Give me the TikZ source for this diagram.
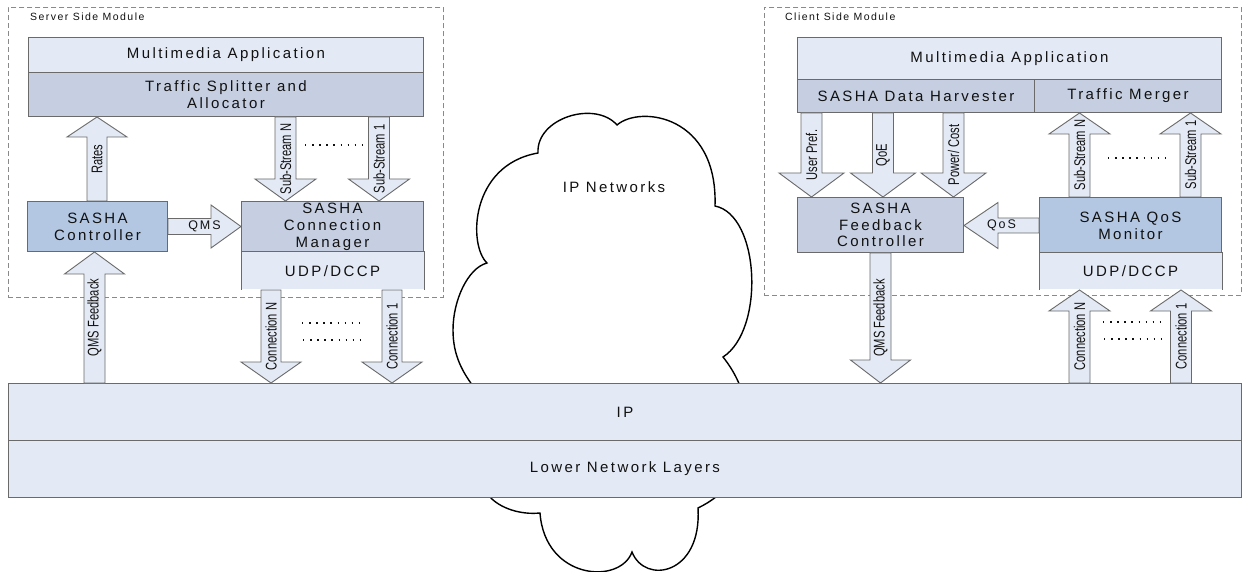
\documentclass[tikz,border=0pt]{standalone}
\usepackage{graphicx}
\usepackage{fontspec}
\setmainfont{Liberation Sans}
\newfontfamily\wf[LetterSpace=16]{Liberation Sans}
\newfontfamily\tf[LetterSpace=14]{Liberation Sans}
\usetikzlibrary{calc}
\definecolor{cLight}{HTML}{E4EAF5}
\definecolor{cMid}{HTML}{C5CFE1}
\definecolor{cDark}{HTML}{B3C7E2}
\definecolor{cLine}{HTML}{6A6A6A}
\definecolor{cText}{HTML}{111111}
\definecolor{cDash}{HTML}{8A8A8A}
\newcommand\nar[1]{\scalebox{0.72}[1]{#1}}
\tikzset{
 layerbox/.style={draw=cLine, line width=1pt, inner sep=0pt, anchor=north west, align=center, text=cText, font=\wf\fontsize{15}{17}\selectfont},
 barrow/.style={draw=cLine, fill=cLight, line width=0.9pt, line join=miter},
 vlab/.style={rotate=90, inner sep=0pt, text=cText, font=\fontsize{15.5}{15.5}\selectfont},
 hlab/.style={inner sep=0pt, text=cText, font=\wf\fontsize{12.5}{14}\selectfont},
 modframe/.style={draw=cDash, line width=0.9pt, dash pattern=on 5pt off 3pt, inner sep=0pt, anchor=north west},
 modtitle/.style={anchor=west, inner sep=0pt, text=cText, font=\tf\fontsize{10.5}{12}\selectfont},
 cloudline/.style={draw=black, line width=1.4pt},
 dotrow/.style={draw=cText, line width=1.4pt, dash pattern=on 1.4pt off 5.7pt},
}
% block arrow: [label style]{tail}{tip}{shaft half}{head half}{head length}{label}{name}
\newcommand\blkarrow[8][vlab]{%
  \coordinate (bT) at (#2); \coordinate (bH) at (#3);
  \coordinate (bB) at ($(bH)!#6!(bT)$);
  \draw[barrow] ($(bT)!#4!90:(bH)$) -- ($(bB)!#4!90:(bH)$) -- ($(bB)!#5!90:(bH)$) -- (bH)
     -- ($(bB)!#5!-90:(bH)$) -- ($(bB)!#4!-90:(bH)$) -- ($(bT)!#4!-90:(bH)$) -- cycle;
  \node[#1] (#8) at ($(bT)!0.5!(bH)$) {#7};
}
\begin{document}
\begin{tikzpicture}[x=1pt,y=-1pt]
\useasboundingbox (0,0) rectangle (1243,572);
\fill[white] (0,0) rectangle (1243,572);

% module frames
\node[modframe, minimum width=435pt, minimum height=290pt] (srvmod) at (8,7) {};
\node[modframe, minimum width=477pt, minimum height=288pt] (climod) at (764,7) {};
\node[modtitle] (srvtitle) at (30,17) {Server Side Module};
\node[modtitle] (clititle) at (785,17) {Client Side Module};

% cloud
\draw[cloudline] (538,153) .. controls (536,118) and (595,100) .. (617,125)
  .. controls (640,105) and (718,115) .. (715,206)
  .. controls (760,215) and (765,330) .. (723,357)
  .. controls (735,372) and (748,395) .. (748,430)
  .. controls (748,470) and (725,495) .. (698,508)
  .. controls (702,575) and (645,585) .. (632,552)
  .. controls (620,585) and (545,580) .. (540,513)
  .. controls (520,515) and (500,508) .. (490,497)
  -- (476,390)
  .. controls (462,372) and (453,355) .. (453,330)
  .. controls (453,300) and (468,268) .. (487,263)
  .. controls (468,245) and (470,165) .. (538,153) -- cycle;
\node[hlab, font=\wf\fontsize{15}{17}\selectfont] (ipn) at (614,187) {IP Networks};

% bottom layers
\node[layerbox, fill=cLight, minimum width=1233pt, minimum height=57pt] (ip) at (8,383) {IP};
\node[layerbox, fill=cLight, minimum width=1233pt, minimum height=57pt] (lnl) at (8,440) {Lower Network Layers};

% server side boxes
\node[layerbox, fill=cLight, minimum width=395pt, minimum height=35pt] (smm) at (28,37) {Multimedia Application};
\node[layerbox, fill=cMid, minimum width=395pt, minimum height=44pt] (sts) at (28,72) {Traffic Splitter and\\Allocator};
\node[layerbox, fill=cDark, minimum width=140pt, minimum height=50pt] (sctl) at (27,201) {SASHA\\Controller};
\node[layerbox, fill=cMid, minimum width=182pt, minimum height=51pt] (scm) at (241,201) {SASHA\\Connection\\Manager};
\node[layerbox, draw=none, fill=cLight, minimum width=182pt, minimum height=37pt] (sudp) at (241,252) {UDP/DCCP};
\draw[cLine, line width=1pt] (sudp.south west) -- (sudp.north west) -- (sudp.north east) -- (sudp.south east);

% client side boxes
\node[layerbox, fill=cLight, minimum width=424pt, minimum height=42pt] (cmm) at (797,37) {Multimedia Application};
\node[layerbox, fill=cMid, minimum width=237pt, minimum height=33pt] (cdh) at (797,79) {SASHA Data Harvester};
\node[layerbox, fill=cMid, minimum width=187pt, minimum height=33pt] (ctm) at (1034,79) {Traffic Merger};
\node[layerbox, fill=cMid, minimum width=166pt, minimum height=55pt, font=\wf\fontsize{15}{16.5}\selectfont] (cfc) at (797,197) {SASHA\\Feedback\\Controller};
\node[layerbox, fill=cDark, minimum width=182pt, minimum height=56pt] (cqm) at (1039,197) {SASHA QoS\\Monitor};
\node[layerbox, draw=none, fill=cLight, minimum width=182pt, minimum height=36pt] (cudp) at (1039,253) {UDP/DCCP};
\draw[cLine, line width=1pt] (cudp.south west) -- (cudp.north west) -- (cudp.north east) -- (cudp.south east);

% x positions of vertical arrows
\coordinate (xR) at (97,0);
\coordinate (xSN) at (285.5,0);
\coordinate (xS1) at (379,0);
\coordinate (xQF) at (94.5,0);
\coordinate (xCN) at (271,0);
\coordinate (xC1) at (392,0);
\coordinate (xUP) at (811.5,0);
\coordinate (xQoE) at (883,0);
\coordinate (xPC) at (953.5,0);
\coordinate (xCSN) at (1079.5,0);
\coordinate (xCS1) at (1190.5,0);
\coordinate (xCQF) at (880.5,0);
\coordinate (xCCN) at (1079.5,0);
\coordinate (xCC1) at (1181,0);

% server arrows
\blkarrow{xR |- sctl.north}{xR |- sts.south}{10pt}{30pt}{20pt}{\nar{Rates}}{lRates}
\blkarrow[hlab]{sctl.east}{sctl.east -| scm.west}{8pt}{21.5pt}{30pt}{QMS}{lQMS}
\blkarrow{xSN |- sts.south}{xSN |- scm.north}{10.5pt}{30.5pt}{22pt}{\nar{Sub-Stream N}}{lSSN}
\blkarrow{xS1 |- sts.south}{xS1 |- scm.north}{10.5pt}{30.5pt}{22pt}{\nar{Sub-Stream 1}}{lSS1}
\blkarrow{xQF |- ip.north}{xQF |- sctl.south}{10.5pt}{30pt}{22pt}{\nar{QMS Feedback}}{lSQF}
\blkarrow{xCN |- sudp.south}{xCN |- ip.north}{10pt}{30pt}{21pt}{\nar{Connection N}}{lSCN}
\blkarrow{xC1 |- sudp.south}{xC1 |- ip.north}{10pt}{30pt}{21pt}{\nar{Connection 1}}{lSC1}

% client arrows
\blkarrow{xUP |- cdh.south}{xUP |- cfc.north}{10.5pt}{32.5pt}{24pt}{\nar{User Pref.}}{lUP}
\blkarrow{xQoE |- cdh.south}{xQoE |- cfc.north}{10.5pt}{32.5pt}{24pt}{\nar{QoE}}{lQoE}
\blkarrow{xPC |- cdh.south}{xPC |- cfc.north}{10.5pt}{32.5pt}{24pt}{\nar{Power/ Cost}}{lPC}
\blkarrow[hlab]{cqm.west}{cqm.west -| cfc.east}{7.5pt}{23pt}{34pt}{QoS}{lQoS}
\blkarrow{xCSN |- cqm.north}{xCSN |- ctm.south}{10.5pt}{30.5pt}{21pt}{\nar{Sub-Stream N}}{lCSN}
\blkarrow{xCS1 |- cqm.north}{xCS1 |- ctm.south}{10.5pt}{30.5pt}{21pt}{\nar{Sub-Stream 1}}{lCS1}
\blkarrow{xCQF |- cfc.south}{xCQF |- ip.north}{10.5pt}{30pt}{23pt}{\nar{QMS Feedback}}{lCQF}
\blkarrow{xCCN |- ip.north}{xCCN |- cudp.south}{10.5pt}{30.5pt}{21pt}{\nar{Connection N}}{lCCN}
\blkarrow{xCC1 |- ip.north}{xCC1 |- cudp.south}{10.5pt}{30.5pt}{21pt}{\nar{Connection 1}}{lCC1}

% dotted ellipses
\draw[dotrow] (305,145) -- (363,145);
\draw[dotrow] (302,323) -- (360,323);
\draw[dotrow] (303,340) -- (361,340);
\draw[dotrow] (1108,158) -- (1166,158);
\draw[dotrow] (1103,322) -- (1161,322);
\draw[dotrow] (1104,339) -- (1162,339);
\end{tikzpicture}
\end{document}
